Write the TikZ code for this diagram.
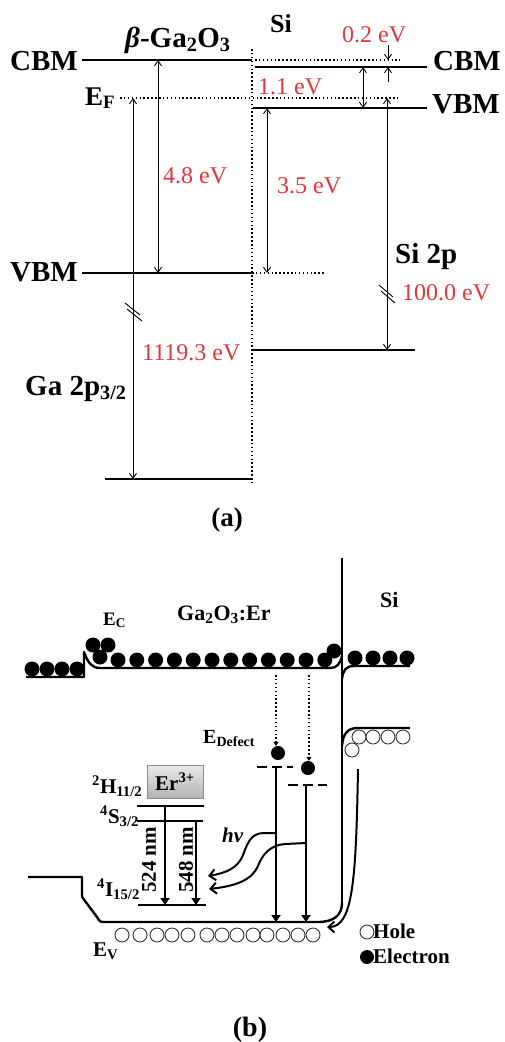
\documentclass[tikz,border=0pt]{standalone}
\usepackage{fontspec}
\setmainfont{Liberation Serif}
\usetikzlibrary{arrows.meta}
\definecolor{lblred}{RGB}{232,52,58}
\begin{document}
\begin{tikzpicture}[x=1pt,y=-1pt,
  lvl/.style={line width=2.4pt},
  dotl/.style={line width=1.5pt, dash pattern=on 1.5pt off 2.4pt},
  gap/.style={line width=0.9pt, {Straight Barb[length=5pt,width=7pt]}-{Straight Barb[length=5pt,width=7pt]}},
  onegap/.style={line width=0.9pt, -{Straight Barb[length=5pt,width=7pt]}},
  bigb/.style={font=\fontsize{29}{29}\selectfont\bfseries, inner sep=0pt, anchor=base west},
  redl/.style={font=\fontsize{24}{24}\selectfont, text=lblred, inner sep=0pt, anchor=base west},
  midb/.style={font=\fontsize{21}{21}\selectfont\bfseries, inner sep=0pt, anchor=base west},
  bl/.style={line width=2.4pt, line join=round},
  elec/.style={circle, fill=black, inner sep=0pt, minimum size=15pt},
  hole/.style={circle, draw=black!80, line width=0.9pt, fill=white, inner sep=0pt, minimum size=14pt},
  tri/.style={-{Triangle[length=7pt,width=9pt]}},
  barb/.style={-{Straight Barb[length=6pt,width=11pt,line width=2pt]}},
]
\useasboundingbox (0,0) rectangle (505,1042);

% ================= (a) =================
\coordinate (gcbL) at (82,60);  \coordinate (gcbR) at (252,60);
\coordinate (gvbL) at (82,273); \coordinate (gvbR) at (252,273);
\coordinate (gvbD) at (325,273);
\coordinate (scbdL) at (255,60); \coordinate (scbdR) at (400,60);
\coordinate (scbL) at (255,67); \coordinate (scbR) at (427,67);
\coordinate (svbL) at (253,108); \coordinate (svbR) at (427,108);
\coordinate (efL) at (120,98); \coordinate (efR) at (400,98);
\coordinate (si2L) at (253,350); \coordinate (si2R) at (415,350);
\coordinate (ga2L) at (105,479); \coordinate (ga2R) at (253,479);
\coordinate (ifT) at (252,49); \coordinate (ifB) at (252,482);

\draw[lvl] (gcbL) -- (gcbR);
\draw[lvl] (gvbL) -- (gvbR);
\draw[lvl] (scbL) -- (scbR);
\draw[lvl] (svbL) -- (svbR);
\draw[lvl] (si2L) -- (si2R);
\draw[lvl] (ga2L) -- (ga2R);
\draw[dotl] (ifT) -- (ifB);
\draw[dotl] (efL) -- (efR);
\draw[dotl] (scbdL) -- (scbdR);
\draw[dotl] (gvbR) -- (gvbD);

\node[bigb] (tcbm1) at (10,70) {CBM};
\node[bigb] (tvbm1) at (10,281) {VBM};
\node[bigb] (tga) at (125,47) {\textit{β}-Ga\textsubscript{2}O\textsubscript{3}};
\node[bigb, font=\fontsize{26}{26}\selectfont\bfseries] (tsi) at (270,32) {Si};
\node[bigb] (tcbm2) at (433,70) {CBM};
\node[bigb] (tvbm2) at (432,113) {VBM};
\node[bigb, font=\fontsize{27}{27}\selectfont\bfseries] (tef) at (85,105) {E\textsubscript{F}};
\node[bigb] (tsi2p) at (395,263) {Si 2p};
\node[bigb] (tga2p) at (25,395) {Ga 2p\textsubscript{3/2}};
\node[redl] (r02) at (342,42) {0.2 eV};
\node[redl] (r11) at (258,94) {1.1 eV};
\node[redl] (r48) at (163,183) {4.8 eV};
\node[redl] (r35) at (277,193) {3.5 eV};
\node[redl] (r100) at (402,300) {100.0 eV};
\node[redl] (r1119) at (142,360) {1119.3 eV};
\node[bigb, font=\fontsize{27}{27}\selectfont\bfseries, anchor=base] (ta) at (227,526) {(a)};

\coordinate (a1t) at (133,98);  \coordinate (a1b) at (133,479);
\coordinate (a2t) at (158,60);  \coordinate (a2b) at (158,273);
\coordinate (a3t) at (267,108); \coordinate (a3b) at (267,273);
\coordinate (a4t) at (387,98);  \coordinate (a4b) at (387,350);
\coordinate (a5t) at (363,67);  \coordinate (a5b) at (363,108);
\coordinate (a6s) at (388,45);  \coordinate (a6e) at (388,60);
\coordinate (a7s) at (388,82);  \coordinate (a7e) at (388,67);
\draw[gap] (a1t) -- (a1b);
\draw[gap] (a2t) -- (a2b);
\draw[gap] (a3t) -- (a3b);
\draw[gap] (a4t) -- (a4b);
\draw[gap] (a5t) -- (a5b);
\draw[onegap] (a6s) -- (a6e);
\draw[onegap] (a7s) -- (a7e);
\draw[line width=0.9pt] (125,303) -- (140,315) (127,309) -- (142,321);
\draw[line width=0.9pt] (379,285) -- (393,297) (381,291) -- (395,303);

% ================= (b) =================
\draw[bl] (26,677) -- (84,677) -- (84,652) .. controls (88,663) and (92,668) .. (100,668) -- (330,668) .. controls (337,668) and (340,664) .. (342,656);
\draw[bl] (342,679) .. controls (343,670) and (346,666) .. (354,666) -- (410,666);
\draw[bl] (342,558) -- (342,905);
\draw[bl] (28,877) -- (82,877) -- (82,893) .. controls (82,897) .. (85,901) -- (97,917) .. controls (100,922) .. (106,922) -- (318,922) .. controls (334,922) and (342,915) .. (342,903);
\draw[bl] (342,746) .. controls (343,733) and (348,728) .. (358,728) -- (410,728);

\foreach \x/\y [count=\i] in {32/669,47/669,62/669,77/669,93/645,108/645,100/657,355/658,373/658,390/658,407/658,334/651}
  \node[elec] (ea\i) at (\x,\y) {};
\foreach \i in {0,...,11}
  \node[elec] (eb\i) at ({118+18.8*\i},660) {};

\foreach \x/\y [count=\i] in {359/737,373/737,388/737,403/737,352/750}
  \node[hole] (ha\i) at (\x,\y) {};
\foreach \x [count=\i] in {122,140,157,172,188,207,222,237,253,267,283,298,313}
  \node[hole] (hb\i) at (\x,935) {};

\coordinate (d1L) at (257,767); \coordinate (d1R) at (293,767);
\coordinate (d2L) at (288,785); \coordinate (d2R) at (327,785);
\draw[line width=2.6pt, dash pattern=on 10pt off 5pt] (d1L) -- (d1R);
\draw[line width=2.6pt, dash pattern=on 10pt off 5pt] (d2L) -- (d2R);
\node[elec, minimum size=14pt] (de1) at (278,753) {};
\node[elec, minimum size=14pt] (de2) at (308,768) {};
\coordinate (dt1) at (276,675); \coordinate (dt2) at (309,675);
\draw[dotl, -{Triangle[length=4pt,width=5pt]}] (dt1) -- (de1.north -| dt1);
\draw[dotl, -{Triangle[length=4pt,width=5pt]}] (dt2) -- (de2.north -| dt2);
\coordinate (v1t) at (276,767); \coordinate (v1b) at (276,922);
\coordinate (v2t) at (306,785); \coordinate (v2b) at (306,922);
\draw[line width=2pt, tri] (v1t) -- (v1b);
\draw[line width=2pt, tri] (v2t) -- (v2b);

\coordinate (h1L) at (137,806); \coordinate (h1R) at (204,806);
\coordinate (s1L) at (137,821); \coordinate (s1R) at (203,821);
\coordinate (i1L) at (138,905); \coordinate (i1R) at (206,905);
\draw[line width=2.2pt] (h1L) -- (h1R);
\draw[line width=2.2pt] (s1L) -- (s1R);
\draw[line width=2.2pt] (i1L) -- (i1R);
\coordinate (t1t) at (165,806); \coordinate (t1b) at (165,905);
\coordinate (t2t) at (196,821); \coordinate (t2b) at (196,905);
\draw[line width=2pt, tri] (t1t) -- (t1b);
\draw[line width=2pt, tri] (t2t) -- (t2b);
\node[draw=black!45, line width=0.8pt, top color=black!8, bottom color=black!30, minimum width=56pt, minimum height=33pt, inner sep=0pt, font=\fontsize{21}{21}\selectfont\bfseries] (er) at (175,781.5) {Er\textsuperscript{3+}};

\draw[line width=2pt, barb] (v1t |- 0,833) -- (264,833) .. controls (250,833) and (247,845) .. (243,855) .. controls (238,868) and (226,873) .. (208,876);
\draw[line width=2pt, barb] (v2t |- 0,843) -- (285,844) .. controls (270,845) and (262,855) .. (258,866) .. controls (252,880) and (236,886) .. (209,889);
\coordinate (hiS) at (358,769); \coordinate (hiE) at (327,927);
\draw[line width=2pt, barb] (hiS) .. controls (356,880) and (353,927) .. (hiE);

\node[midb, font=\fontsize{22}{22}\selectfont\bfseries] (bsi) at (380,607) {Si};
\node[midb, font=\fontsize{22}{22}\selectfont\bfseries] (bga) at (177,620) {Ga\textsubscript{2}O\textsubscript{3}:Er};
\node[midb, font=\fontsize{19}{19}\selectfont\bfseries] (bec) at (103,625) {E\textsubscript{C}};
\node[midb, font=\fontsize{20}{20}\selectfont\bfseries] (bed) at (203,743) {E\textsubscript{Defect}};
\node[midb] (bh) at (92,793) {\textsuperscript{2}H\textsubscript{11/2}};
\node[midb] (bs) at (100,823) {\textsuperscript{4}S\textsubscript{3/2}};
\node[midb] (bi) at (97,896) {\textsuperscript{4}I\textsubscript{15/2}};
\node[midb] (bev) at (93,956) {E\textsubscript{V}};
\node[midb, rotate=90, anchor=center] (n524) at (149,860) {524 nm};
\node[midb, rotate=90, anchor=center] (n548) at (186,860) {548 nm};
\node[midb] (bhv) at (222,842) {\textit{hv}};
\node[hole] (lh) at (367,932) {};
\node[elec, minimum size=14pt] (le) at (367,957) {};
\node[midb] (bhole) at (373,938) {Hole};
\node[midb] (belec) at (373,963) {Electron};
\node[bigb, font=\fontsize{28}{28}\selectfont\bfseries, anchor=base] (tb) at (250,1036) {(b)};
\end{tikzpicture}
\end{document}
